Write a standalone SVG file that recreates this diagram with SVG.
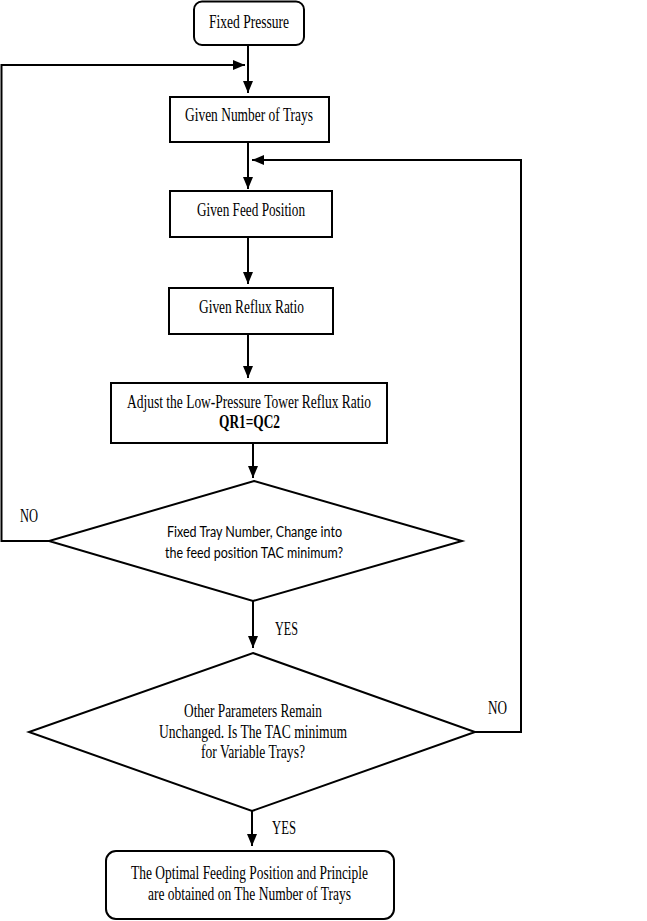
<svg xmlns="http://www.w3.org/2000/svg" width="647" height="921" viewBox="0 0 647 921">
<style>
.box{fill:#fff;stroke:#000;stroke-width:2}
.ln{fill:none;stroke:#000;stroke-width:2}
.t{font-family:"Liberation Serif","Times New Roman",serif;font-size:18px;fill:#000;text-anchor:middle}
.s{font-family:Lato,"Noto Sans","Liberation Sans",sans-serif;font-size:15.5px;fill:#000;text-anchor:middle}
.b{font-weight:bold}
</style>
<defs>
<marker id="ah" markerUnits="userSpaceOnUse" markerWidth="12" markerHeight="10" refX="12" refY="5" orient="auto">
<path d="M0,0 L12,5 L0,10 z" fill="#000"/>
</marker>
</defs>
<rect width="647" height="921" fill="#fff"/>
<g id="connectors">
<path class="ln" d="M248,45 V93" marker-end="url(#ah)"/>
<path class="ln" d="M49,541 H1.5 V65 H245" marker-end="url(#ah)"/>
<path class="ln" d="M248,142 V189" marker-end="url(#ah)"/>
<path class="ln" d="M475,732 H521 V160 H252" marker-end="url(#ah)"/>
<path class="ln" d="M248,237 V284" marker-end="url(#ah)"/>
<path class="ln" d="M248,334 V378" marker-end="url(#ah)"/>
<path class="ln" d="M253,443 V478" marker-end="url(#ah)"/>
<path class="ln" d="M253,601 V648" marker-end="url(#ah)"/>
<path class="ln" d="M252,811 V846" marker-end="url(#ah)"/>
<text class="t" x="29" y="522" textLength="18" lengthAdjust="spacingAndGlyphs">NO</text>
<text class="t" x="286.5" y="635" textLength="23" lengthAdjust="spacingAndGlyphs">YES</text>
<text class="t" x="497.5" y="714" textLength="19" lengthAdjust="spacingAndGlyphs">NO</text>
<text class="t" x="284" y="834" textLength="24" lengthAdjust="spacingAndGlyphs">YES</text>
</g>
<g id="fixed-pressure">
<rect class="box" x="194" y="1.5" width="110" height="43.5" rx="8"/>
<text class="t" x="249" y="28" textLength="80" lengthAdjust="spacingAndGlyphs">Fixed Pressure</text>
</g>
<g id="given-trays">
<rect class="box" x="170" y="97" width="159" height="45"/>
<text class="t" x="249" y="121" textLength="128" lengthAdjust="spacingAndGlyphs">Given Number of Trays</text>
</g>
<g id="given-feed">
<rect class="box" x="170" y="191" width="162" height="46"/>
<text class="t" x="251" y="216" textLength="108" lengthAdjust="spacingAndGlyphs">Given Feed Position</text>
</g>
<g id="given-reflux">
<rect class="box" x="169" y="288" width="164" height="46"/>
<text class="t" x="251.5" y="313" textLength="105" lengthAdjust="spacingAndGlyphs">Given Reflux Ratio</text>
</g>
<g id="adjust">
<rect class="box" x="111" y="383" width="276" height="60"/>
<text class="t" x="249" y="408" textLength="244" lengthAdjust="spacingAndGlyphs">Adjust the Low-Pressure Tower Reflux Ratio</text>
<text class="t b" x="249.5" y="428" textLength="61" lengthAdjust="spacingAndGlyphs">QR1=QC2</text>
</g>
<g id="decision-feed">
<polygon class="box" points="254,481 462,541 253,601 49,541"/>
<text class="s" x="254.5" y="537" textLength="175" lengthAdjust="spacingAndGlyphs">Fixed Tray Number, Change into</text>
<text class="s" x="254" y="558" textLength="178" lengthAdjust="spacingAndGlyphs">the feed position TAC minimum?</text>
</g>
<g id="decision-trays">
<polygon class="box" points="253,653 475,732 252,811 29,732"/>
<text class="t" x="253" y="717" textLength="138" lengthAdjust="spacingAndGlyphs">Other Parameters Remain</text>
<text class="t" x="253" y="738" textLength="188" lengthAdjust="spacingAndGlyphs">Unchanged. Is The TAC minimum</text>
<text class="t" x="253" y="758" textLength="104" lengthAdjust="spacingAndGlyphs">for Variable Trays?</text>
</g>
<g id="result">
<rect class="box" x="106" y="851" width="288" height="68" rx="10"/>
<text class="t" x="249.5" y="879" textLength="237" lengthAdjust="spacingAndGlyphs">The Optimal Feeding Position and Principle</text>
<text class="t" x="249.5" y="900" textLength="203" lengthAdjust="spacingAndGlyphs">are obtained on The Number of Trays</text>
</g>
</svg>
